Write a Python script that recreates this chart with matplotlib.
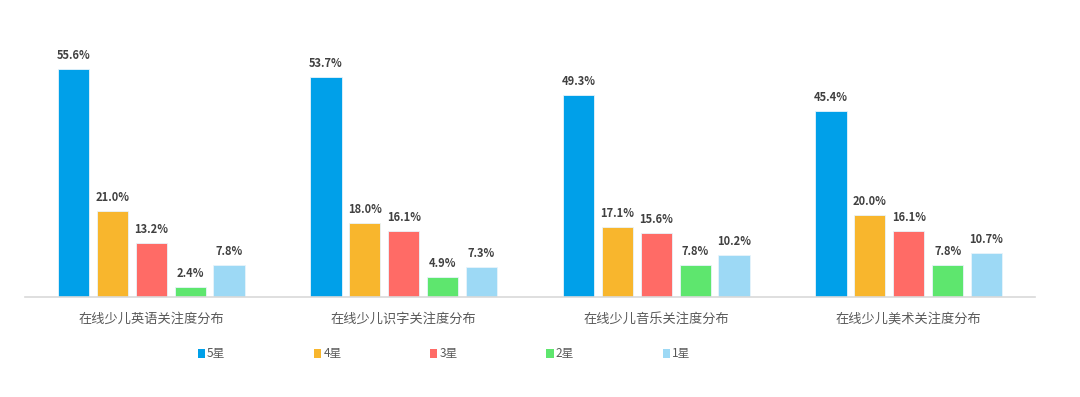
import numpy as np
import matplotlib
matplotlib.use('Agg')
import matplotlib.pyplot as plt
from matplotlib.patches import Patch

plt.rcParams['font.family'] = ['Noto Sans CJK SC', 'DejaVu Sans']

categories = ['在线少儿英语关注度分布', '在线少儿识字关注度分布',
              '在线少儿音乐关注度分布', '在线少儿美术关注度分布']
series = ['5星', '4星', '3星', '2星', '1星']
values = {
    '5星': [55.6, 53.7, 49.3, 45.4],
    '4星': [21.0, 18.0, 17.1, 20.0],
    '3星': [13.2, 16.1, 15.6, 16.1],
    '2星': [2.4, 4.9, 7.8, 7.8],
    '1星': [7.8, 7.3, 10.2, 10.7],
}
colors = ['#00a0e9', '#f8b62d', '#ff6b66', '#5ee66e', '#9dd9f5']

fig = plt.figure(figsize=(10.8, 3.97), dpi=100)
ax = fig.add_axes([25 / 1080, 1 - 297 / 397, 1010 / 1080, 246 / 397])

x = np.arange(len(categories))
width = 0.123
step = 0.154
for i, s in enumerate(series):
    pos = x + (i - 2) * step
    bars = ax.bar(pos, values[s], width, color=colors[i],
                  edgecolor='#e8f4fb', linewidth=0.6, label=s)
    for b, v in zip(bars, values[s]):
        ax.text(b.get_x() + b.get_width() / 2, v + 1.7, f'{v:.1f}%',
                ha='center', va='bottom', fontsize=8, color='#404040',
                fontweight='bold')

ax.set_xlim(-0.5, 3.5)
ax.set_ylim(0, 60)
ax.set_xticks(x)
ax.set_xticklabels(categories, fontsize=9.5, color='#595959')
ax.tick_params(axis='x', length=0, pad=11)
ax.set_yticks([])
for sp in ['top', 'right', 'left']:
    ax.spines[sp].set_visible(False)
ax.spines['bottom'].set_color('#d9d9d9')
ax.spines['bottom'].set_linewidth(1.2)

handles = [Patch(facecolor=c, edgecolor='none') for c in colors]
leg = fig.legend(handles, series, loc='center left',
                 bbox_to_anchor=(187 / 1080, 1 - 354 / 397), ncol=5,
                 frameon=False, fontsize=8.5, handlelength=0.6,
                 handleheight=0.7, handletextpad=0.2, columnspacing=7.5)
for t in leg.get_texts():
    t.set_color('#595959')

fig.savefig('out.png', dpi=100)
